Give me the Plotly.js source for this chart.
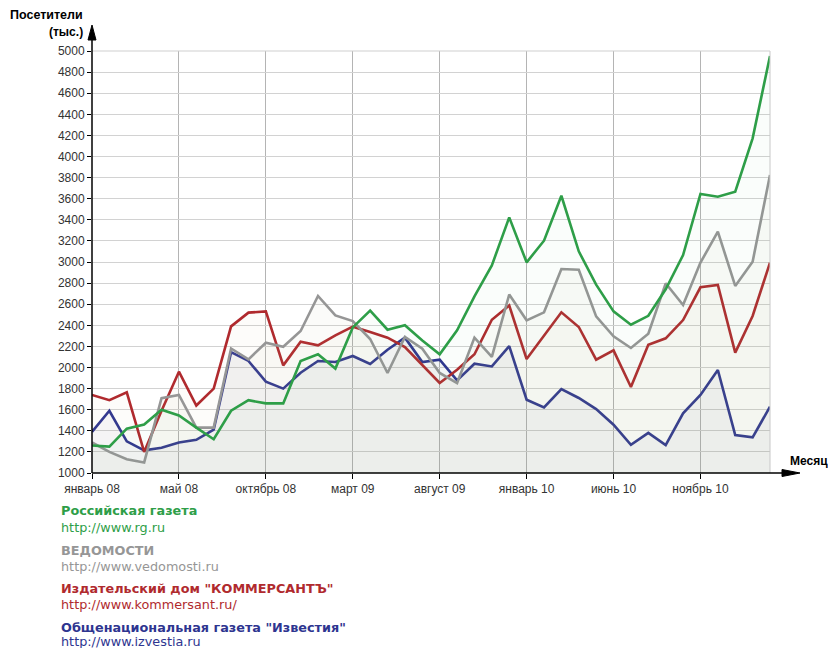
<!DOCTYPE html>
<html>
<head>
<meta charset="utf-8">
<script src="https://cdn.plot.ly/plotly-3.0.1.min.js"></script>
<style>html,body{margin:0;padding:0;background:#fff;}#chart{width:828px;height:648px;}</style>
</head>
<body>
<div id="chart"></div>
<script>
// month index 0..39
const monthIndex = [0,1,2,3,4,5,6,7,8,9,10,11,12,13,14,15,16,17,18,19,20,21,22,23,24,25,26,27,28,29,30,31,32,33,34,35,36,37,38,39];
const tickPositions = [0,5,10,15,20,25,30,35];
const tickLabels = ["январь 08","май 08","октябрь 08","март 09","август 09","январь 10","июнь 10","ноябрь 10"];

const rgValues = [1260,1250,1420,1460,1600,1545,1430,1320,1590,1690,1660,1660,2062,2125,1990,2380,2540,2358,2400,2257,2125,2352,2674,2968,3423,2997,3202,3628,3101,2785,2532,2406,2490,2741,3066,3645,3619,3667,4172,4953];
const vedomostiValues = [1290,1200,1130,1100,1710,1740,1430,1430,2180,2077,2235,2197,2346,2678,2494,2440,2270,1948,2289,2178,1948,1853,2283,2100,2692,2447,2523,2933,2927,2485,2295,2185,2320,2798,2592,2994,3288,2773,3003,3825];
const kommersantValues = [1740,1690,1765,1200,1590,1960,1640,1800,2390,2520,2532,2020,2245,2210,2305,2387,2336,2283,2194,2020,1853,1979,2125,2453,2588,2080,2301,2523,2384,2074,2162,1815,2215,2277,2450,2760,2782,2141,2488,2994];
const izvestiaValues = [1390,1590,1300,1215,1240,1290,1315,1410,2145,2062,1866,1800,1951,2062,2052,2109,2033,2169,2283,2052,2074,1878,2036,2010,2202,1695,1622,1796,1711,1606,1458,1268,1380,1265,1565,1740,1976,1360,1338,1629];

const seriesNames = ["Российская газета","ВЕДОМОСТИ","Издательский дом \"КОММЕРСАНТЪ\"","Общенациональная газета \"Известия\""];
const seriesUrls = ["http://www.rg.ru","http://www.vedomosti.ru","http://www.kommersant.ru/","http://www.izvestia.ru"];
const yAxisTitle = ["Посетители","(тыс.)"];
const xAxisTitle = "Месяц";

const lineColors = ["#2e9e48","#969696","#b02a2e","#2e3590"];
const fillColors = ["rgba(60,170,80,0.025)","rgba(180,170,140,0.05)","rgba(200,170,120,0.04)","rgba(60,70,140,0.045)"];
const allValues = [rgValues, vedomostiValues, kommersantValues, izvestiaValues];

// draw order: blue, red, gray, green
const order = [3,2,1,0];
const traces = order.map(k => ({
  x: monthIndex, y: allValues[k], type: 'scatter', mode: 'lines',
  name: seriesNames[k],
  line: {color: lineColors[k], width: 2.6},
  fill: 'tozeroy', fillcolor: fillColors[k],
  hoverinfo: 'skip'
}));

// pixel helpers (plot area: x 92..770, y 51..473)
const L = 92, R = 770, T = 51, B = 473;
const px = p => (p - L) / (R - L);
const py = p => (B - p) / (B - T);

const shapes = [
  {type:'line', xref:'paper', yref:'paper', x0:1, x1:1, y0:0, y1:1, line:{color:'#c8c8c8', width:1}},
  {type:'line', xref:'paper', yref:'paper', x0:0, x1:1, y0:1, y1:1, line:{color:'#cfcfcf', width:1}},
  {type:'line', xref:'paper', yref:'paper', x0:0, x1:0, y0:0, y1:py(36), line:{color:'#000', width:1.5}},
  {type:'path', xref:'paper', yref:'paper', path:`M ${px(88)},${py(40)} L ${px(92)},${py(25)} L ${px(96)},${py(40)} Z`, fillcolor:'#000', line:{color:'#000', width:1}},
  {type:'line', xref:'paper', yref:'paper', x0:0, x1:px(786), y0:0, y1:0, line:{color:'#000', width:1.5}},
  {type:'path', xref:'paper', yref:'paper', path:`M ${px(782)},${py(469.5)} L ${px(800)},${py(473)} L ${px(782)},${py(476.5)} Z`, fillcolor:'#000', line:{color:'#000', width:1}}
];

const annotations = [
  {xref:'paper', yref:'paper', x:px(85), y:py(15), xanchor:'right', yanchor:'middle', showarrow:false, text:'<b>'+yAxisTitle[0]+'</b>', font:{family:'Liberation Sans, Arial', size:12.5, color:'#000'}},
  {xref:'paper', yref:'paper', x:px(85), y:py(32), xanchor:'right', yanchor:'middle', showarrow:false, text:'<b>'+yAxisTitle[1]+'</b>', font:{family:'Liberation Sans, Arial', size:12, color:'#000'}},
  {xref:'paper', yref:'paper', x:px(788), y:py(461), xanchor:'left', yanchor:'middle', showarrow:false, text:'<b>'+xAxisTitle+'</b>', font:{family:'Liberation Sans, Arial', size:12, color:'#000'}}
];
const legendY = [[511,527],[550,566],[588,604],[627,641]];
for (let k = 0; k < 4; k++) {
  annotations.push({xref:'paper', yref:'paper', x:px(59), y:py(legendY[k][0]), xanchor:'left', yanchor:'middle', showarrow:false,
    text:'<b>'+seriesNames[k]+'</b>', font:{family:'DejaVu Sans, Verdana', size:12.8, color:lineColors[k]}});
  annotations.push({xref:'paper', yref:'paper', x:px(59), y:py(legendY[k][1]), xanchor:'left', yanchor:'middle', showarrow:false,
    text:seriesUrls[k], font:{family:'DejaVu Sans, Verdana', size:12.8, color:lineColors[k]}});
}

const layout = {
  width: 828, height: 648,
  margin: {l: L, r: 828 - R, t: T, b: 648 - B},
  paper_bgcolor: '#fff', plot_bgcolor: '#fff',
  showlegend: false,
  xaxis: {
    range: [0, 39], tickvals: tickPositions, ticktext: tickLabels,
    showgrid: true, gridcolor: '#b4b4b4', gridwidth: 1,
    ticks: 'outside', ticklen: 5, tickcolor: '#000', zeroline: false, showline: false,
    tickfont: {family: 'Liberation Sans, Arial', size: 12, color: '#333'}
  },
  yaxis: {
    range: [1000, 5000], dtick: 200, tick0: 1000,
    showgrid: true, gridcolor: '#d2d2d2', gridwidth: 1,
    ticks: 'outside', ticklen: 4, tickcolor: '#000', zeroline: false, showline: false,
    tickfont: {family: 'Liberation Sans, Arial', size: 12, color: '#333'}
  },
  shapes: shapes,
  annotations: annotations
};

Plotly.newPlot('chart', traces, layout, {staticPlot: true, displayModeBar: false});
</script>
</body>
</html>
